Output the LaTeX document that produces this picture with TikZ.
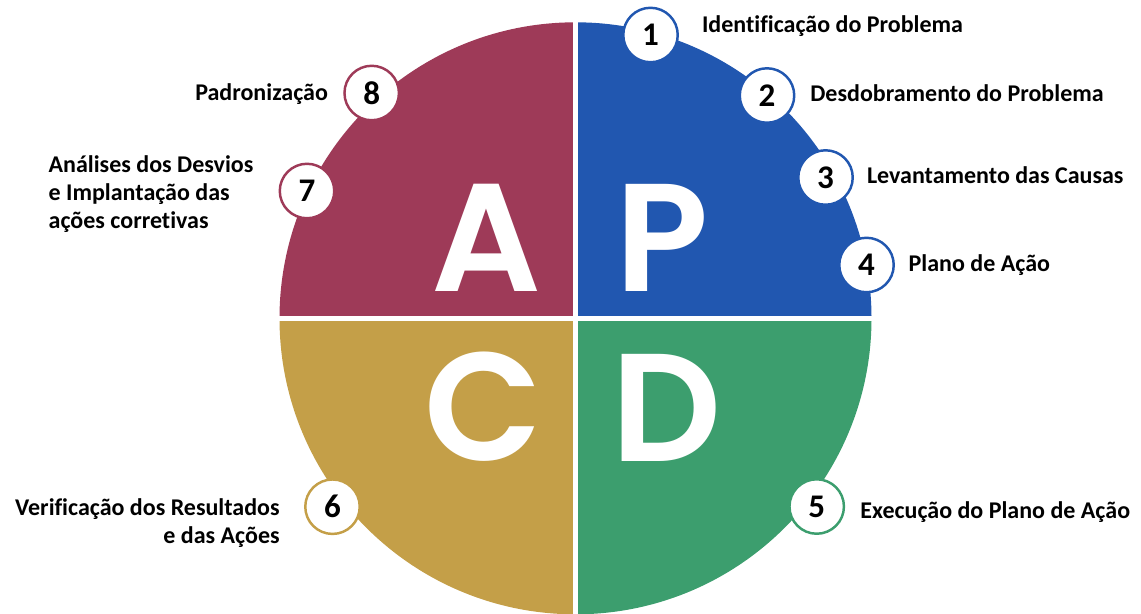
\documentclass[tikz,border=0pt]{standalone}
\usepackage{fontspec}
\setmainfont{Carlito}[Ligatures=CommonOff]
\newfontfamily\letterfont{Poppins}[BoldFont={Poppins SemiBold}]
\usepackage{tikz}
\definecolor{planblue}{HTML}{2157B0}
\definecolor{dogreen}{HTML}{3C9E6E}
\definecolor{checkgold}{HTML}{C49F48}
\definecolor{actmauve}{HTML}{9E3A58}
\tikzset{
	badge/.style={circle, draw=#1, line width=1.4pt, fill=white, minimum size=31pt, inner sep=0pt,
		font=\fontsize{18.8}{20}\selectfont\bfseries},
	steptext/.style={font=\fontsize{13.66}{16.1}\selectfont\bfseries},
	bigletter/.style={anchor=base, text=white, font=\letterfont\bfseries\fontsize{87.4}{90}\selectfont}
}

\begin{document}
\begin{tikzpicture}[x=0.02cm, y=-0.02cm]
		\useasboundingbox (0,0) rectangle (1141,613);
		\coordinate (c) at (575.5,318.3);

		% Draw the four quadrants
		\begin{scope}
			\clip (c) circle[radius=296];
			\fill[actmauve] (c) rectangle (270,10);
			\fill[planblue] (c) rectangle (880,10);
			\fill[checkgold] (c) rectangle (270,630);
			\fill[dogreen] (c) rectangle (880,630);
		\end{scope}

		% Draw the white cross
		\draw[white, line width=2.55pt] (575.5,10) -- (575.5,630);
		\draw[white, line width=2.55pt] (270,318.3) -- (880,318.3);

		% Letters
		\node[bigletter] (letA) at (486.7,291.7) {A};
		\node[bigletter] (letP) at (662,291.7) {P};
		\node[bigletter] (letC) at (483,460.5) {C};
		\node[bigletter] (letD) at (667,461.7) {D};

		% Numbered steps
		\node[badge=planblue] (s1) at (650.5,35) {1};
		\node[badge=planblue] (s2) at (767,95.5) {2};
		\node[badge=planblue] (s3) at (825.5,177.5) {3};
		\node[badge=planblue] (s4) at (866.5,265) {4};
		\node[badge=dogreen] (s5) at (816.7,506.5) {5};
		\node[badge=checkgold] (s6) at (332.5,506.7) {6};
		\node[badge=actmauve] (s7) at (307,191) {7};
		\node[badge=actmauve] (s8) at (371.7,93) {8};

		% Step texts
		\node[steptext, anchor=base west, inner sep=0pt] (t1) at (701.7,32.3) {Identificação do Problema};
		\node[steptext, anchor=base west, inner sep=0pt] (t2) at (810,101) {Desdobramento do Problema};
		\node[steptext, anchor=base west, inner sep=0pt] (t3) at (866.7,183.3) {Levantamento das Causas};
		\node[steptext, anchor=base west, inner sep=0pt] (t4) at (908.3,271.7) {Plano de Ação};
		\node[steptext, anchor=base west, inner sep=0pt] (t5) at (860,518.3) {Execução do Plano de Ação};
		\node[steptext, anchor=north east, inner sep=0pt, align=right] (t6) at (280,498.3)
			{Verificação dos Resultados\\e das Ações};
		\node[steptext, anchor=north west, inner sep=0pt, align=left] (t7) at (48.3,155)
			{Análises dos Desvios\\e Implantação das\\ações corretivas};
		\node[steptext, anchor=base east, inner sep=0pt] (t8) at (328.3,100) {Padronização};
	\end{tikzpicture}
\end{document}
